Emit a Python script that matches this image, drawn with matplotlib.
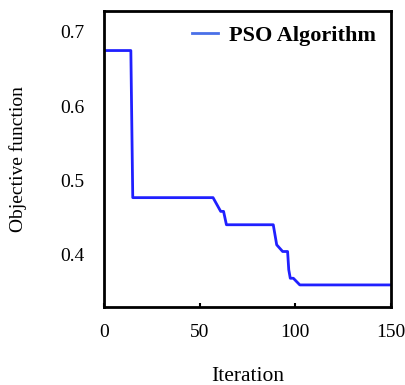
import matplotlib.pyplot as plt

plt.rcParams['font.family'] = ['Liberation Serif', 'DejaVu Serif']

# convergence curve
iteration = [0, 14, 15, 57, 61, 62.5, 64, 88.5, 90.3, 93.4, 96, 96.6, 97.4, 99, 102.4, 150]
objective = [0.675, 0.675, 0.477, 0.477, 0.4585, 0.4585, 0.4405, 0.4405, 0.4135, 0.4045,
             0.4045, 0.380, 0.3685, 0.3685, 0.3595, 0.3595]

xticks = [0, 50, 100, 150]
yticks = [0.4, 0.5, 0.6, 0.7]

fig = plt.figure(figsize=(4.05, 3.85), dpi=100)
ax = fig.add_axes([0.257, 0.203, 0.708, 0.768])

ax.plot(iteration, objective, color='#2020ff', linewidth=2, label='PSO Algorithm')

ax.set_xlim(0, 150)
ax.set_ylim(0.33, 0.728)
ax.set_xticks(xticks)
ax.set_yticks(yticks)
ax.tick_params(axis='x', direction='in', length=3, width=1.5, pad=12, labelsize=14)
ax.tick_params(axis='y', length=0, pad=14, labelsize=14)
for s in ax.spines.values():
    s.set_linewidth(2)

ax.set_xlabel('Iteration', fontsize=15.5, labelpad=19)
ax.set_ylabel('Objective function', fontsize=14, labelpad=24)

leg = ax.legend(loc='upper right', frameon=False, handlelength=1.2, handletextpad=0.5,
                prop={'weight': 'bold', 'size': 16}, borderaxespad=0.25)
leg.get_lines()[0].set_color('#4a70e8')

fig.savefig('out.png', dpi=100)
